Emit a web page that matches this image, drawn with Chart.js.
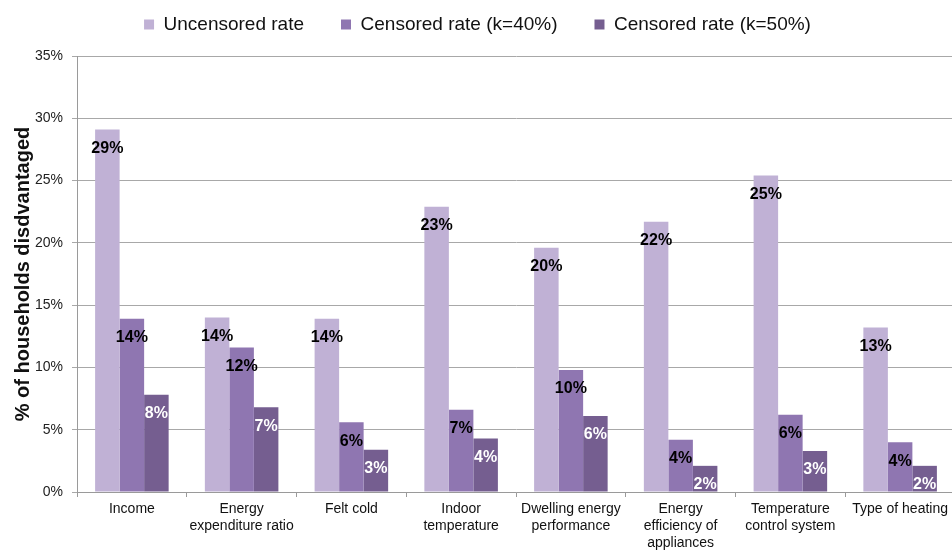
<!DOCTYPE html>
<html>
<head>
<meta charset="utf-8">
<script src="https://cdn.jsdelivr.net/npm/chart.js@4.4.1/dist/chart.umd.min.js"></script>
<style>
  html, body { margin: 0; padding: 0; background: #fff; overflow: hidden; }
  #wrap { width: 955px; height: 550px; position: relative; }
</style>
</head>
<body>
<div id="wrap"><canvas id="barChart"></canvas></div>
<script>
  // data (percent of households)
  var categories = [
    "Income",
    ["Energy", "expenditure ratio"],
    "Felt cold",
    ["Indoor", "temperature"],
    ["Dwelling energy", "performance"],
    ["Energy", "efficiency of", "appliances"],
    ["Temperature", "control system"],
    "Type of heating",
  ];
  var seriesNames = ["Uncensored rate", "Censored rate (k=40%)", "Censored rate (k=50%)"];
  var uncensored = [29.1, 14.0, 13.9, 22.9, 19.6, 21.7, 25.4, 13.2];
  var censored40 = [13.9, 11.6, 5.6, 6.6, 9.8, 4.2, 6.2, 4.0];
  var censored50 = [7.8, 6.8, 3.4, 4.3, 6.1, 2.1, 3.3, 2.1];
  var yTicks = [0, 5, 10, 15, 20, 25, 30, 35];

  var colors = ["#c0b1d5", "#8f76b1", "#755e90"];
  var labelColors = ["#000", "#000", "#fff"];

  // value labels inside the top of each bar
  var barLabels = {
    id: "barLabels",
    afterDatasetsDraw: function (chart) {
      var ctx = chart.ctx;
      ctx.save();
      ctx.font = "bold 16px 'Liberation Sans', Arial, sans-serif";
      ctx.textAlign = "center";
      ctx.textBaseline = "middle";
      chart.data.datasets.forEach(function (ds, i) {
        var meta = chart.getDatasetMeta(i);
        ctx.fillStyle = labelColors[i];
        meta.data.forEach(function (bar, j) {
          ctx.fillText(Math.round(ds.data[j]) + "%", bar.x, bar.y + 19);
        });
      });
      ctx.restore();
    },
  };

  // legend spacing: wide gaps between items but a short legend box
  var legendFit = {
    id: "legendFit",
    beforeInit: function (chart) {
      var fit = chart.legend.fit;
      chart.legend.fit = function () {
        fit.bind(chart.legend)();
        this.height = 78;
      };
    },
  };

  var ctx = document.getElementById("barChart");
  new Chart(ctx, {
    type: "bar",
    data: {
      labels: categories,
      datasets: [
        { label: seriesNames[0], data: uncensored, backgroundColor: colors[0] },
        { label: seriesNames[1], data: censored40, backgroundColor: colors[1] },
        { label: seriesNames[2], data: censored50, backgroundColor: colors[2] },
      ],
    },
    plugins: [barLabels, legendFit],
    options: {
      responsive: true,
      maintainAspectRatio: false,
      animation: false,
      datasets: {
        bar: { categoryPercentage: 0.67, barPercentage: 1.0 },
      },
      layout: { padding: { top: -22, left: 0, right: 0, bottom: 0 } },
      plugins: {
        tooltip: { enabled: false },
        legend: {
          position: "top",
          labels: {
            boxWidth: 10,
            boxHeight: 10,
            padding: 37,
            color: "#111",
            font: { family: "'Liberation Sans', Arial, sans-serif", size: 19 },
          },
        },
      },
      scales: {
        x: {
          afterFit: function (scale) { scale.height = 58; },
          grid: {
            offset: true,
            drawOnChartArea: false,
            drawTicks: true,
            tickLength: 5,
            color: "#9a9a9a",
          },
          border: { color: "#9a9a9a" },
          ticks: {
            padding: 4,
            maxRotation: 0,
            autoSkip: false,
            color: "#111",
            font: { family: "'Liberation Sans', Arial, sans-serif", size: 14 },
          },
        },
        y: {
          min: 0,
          max: 35,
          afterFit: function (scale) { scale.width = 77; },
          afterBuildTicks: function (scale) {
            scale.ticks = yTicks.map(function (v) { return { value: v }; });
          },
          grid: { color: "#a8a8a8", tickLength: 5 },
          border: { color: "#9a9a9a" },
          ticks: {
            padding: 9,
            color: "#222",
            font: { family: "'Liberation Sans', Arial, sans-serif", size: 14 },
            callback: function (v) { return v + "%"; },
          },
          title: {
            display: true,
            text: "% of households disdvantaged",
            color: "#111",
            padding: { top: 11, bottom: 0 },
            font: { family: "'Liberation Sans', Arial, sans-serif", size: 20, weight: "bold" },
          },
        },
      },
    },
  });
</script>
</body>
</html>
